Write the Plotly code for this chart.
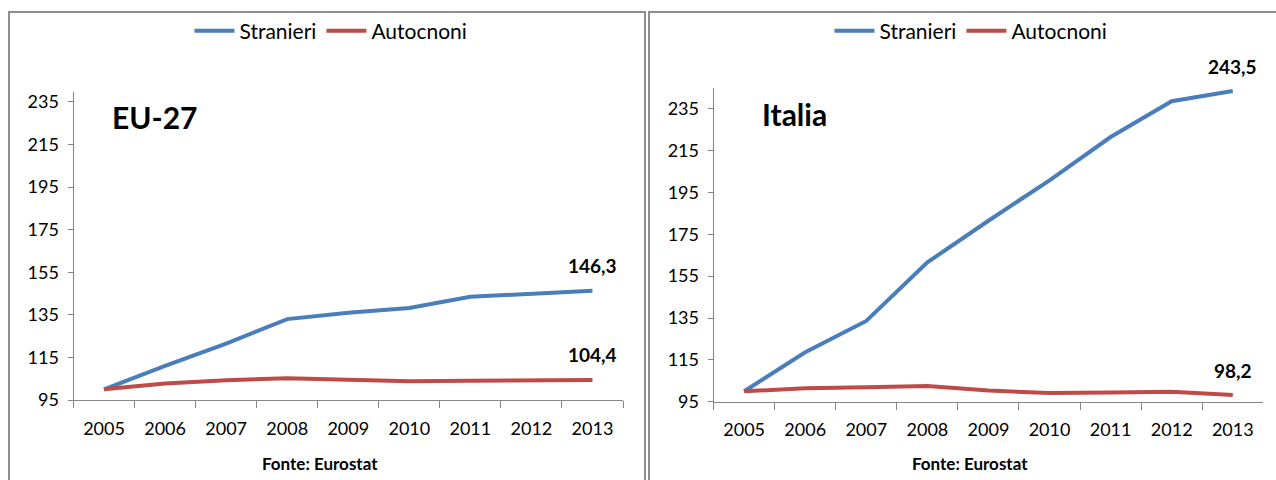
import plotly.graph_objects as go

# Index numbers (2005 = 100)
years = ["2005", "2006", "2007", "2008", "2009", "2010", "2011", "2012", "2013"]
eu_stranieri = [100, 111, 121.5, 133, 136, 138.2, 143.5, 145, 146.3]
eu_autocnoni = [100, 102.8, 104.3, 105.2, 104.5, 103.8, 104.0, 104.2, 104.4]
it_stranieri = [100, 118.6, 133.6, 161.6, 181.5, 200.8, 221.5, 238.6, 243.5]
it_autocnoni = [100, 101.4, 101.9, 102.5, 100.3, 99.2, 99.4, 99.8, 98.2]
y_ticks = [95, 115, 135, 155, 175, 195, 215, 235]

W, H = 1276, 480
BLUE = "#4a7ebb"
RED = "#be4b48"
AXIS = "#868686"
FONT = "Lato"


def px(x):
    return x / W


def py(y):
    return 1 - y / H


def fmt(v):
    return f"{v:.1f}".replace(".", ",")


fig = go.Figure()

panels = [
    dict(xa="x", ya="y", xd=[73.5, 623], yd=[91.7, 400], yr=[95, 239.8],
         s=eu_stranieri, a=eu_autocnoni, legend="legend", title="EU-27",
         tx=110, ty=117, lx=331, fx=320),
    dict(xa="x2", ya="y2", xd=[713.6, 1263.3], yd=[88.3, 401.7], yr=[95, 244.8],
         s=it_stranieri, a=it_autocnoni, legend="legend2", title="Italia",
         tx=760, ty=114, lx=971, fx=970),
]

for i, p in enumerate(panels):
    fig.add_trace(go.Scatter(x=years, y=p["s"], name="Stranieri", mode="lines",
                             line=dict(color=BLUE, width=4),
                             xaxis=p["xa"], yaxis=p["ya"], legend=p["legend"]))
    fig.add_trace(go.Scatter(x=years, y=p["a"], name="Autocnoni", mode="lines",
                             line=dict(color=RED, width=4),
                             xaxis=p["xa"], yaxis=p["ya"], legend=p["legend"]))

    sfx = "" if i == 0 else "2"
    axis_common = dict(showgrid=False, zeroline=False, showline=True,
                       linecolor=AXIS, linewidth=1, ticks="outside",
                       tickcolor=AXIS, automargin=False,
                       tickfont=dict(family=FONT, size=18, color="#000"))
    fig.update_layout(**{
        "xaxis" + sfx: dict(axis_common, domain=[px(p["xd"][0]), px(p["xd"][1])],
                            type="category", range=[-0.5, 8.5], tickson="boundaries",
                            ticklen=7, ticklabelstandoff=12, anchor="y" + sfx),
        "yaxis" + sfx: dict(axis_common, domain=[py(p["yd"][1]), py(p["yd"][0])],
                            range=p["yr"], tickvals=y_ticks, ticklen=5,
                            ticklabelstandoff=5, anchor="x" + sfx),
        p["legend"]: dict(orientation="h", x=px(p["lx"]), xanchor="center",
                          y=py(31), yanchor="middle", bgcolor="rgba(0,0,0,0)",
                          font=dict(family=FONT, size=21, color="#000"),
                          itemwidth=40, tracegroupgap=0),
    })

    # Panel title
    fig.add_annotation(x=px(p["tx"]), y=py(p["ty"]), xref="paper", yref="paper",
                       text="<b>" + p["title"] + "</b>", showarrow=False,
                       xanchor="left", yanchor="middle",
                       font=dict(family=FONT, size=30, color="#000"))
    # Source note
    fig.add_annotation(x=px(p["fx"]), y=py(463), xref="paper", yref="paper",
                       text="<b>Fonte: Eurostat</b>", showarrow=False,
                       xanchor="center", yanchor="middle",
                       font=dict(family=FONT, size=17, color="#000"))
    # End-point value labels (positioned on the last category)
    last = len(years) - 1
    for series in (p["s"], p["a"]):
        fig.add_annotation(x=last, y=series[last], xref=p["xa"], yref=p["ya"],
                           text="<b>" + fmt(series[last]) + "</b>", showarrow=False,
                           xanchor="center", yanchor="middle", yshift=25,
                           font=dict(family=FONT, size=19, color="#000"))

# Panel frames
for x0, x1 in [(9, 645), (649, 1290)]:
    fig.add_shape(type="rect", xref="paper", yref="paper",
                  x0=px(x0), x1=px(x1), y0=py(500), y1=py(12),
                  line=dict(color="#8f8f8f", width=2), fillcolor="rgba(0,0,0,0)")

fig.update_layout(width=W, height=H, margin=dict(l=0, r=0, t=0, b=0, autoexpand=False),
                  paper_bgcolor="white", plot_bgcolor="white", showlegend=True)

fig.write_html("out.html")
